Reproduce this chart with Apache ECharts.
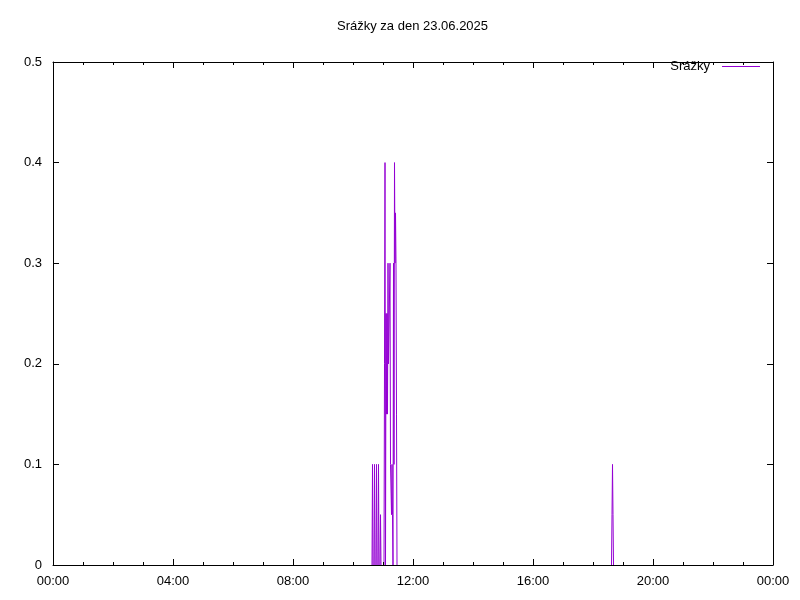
<!DOCTYPE html>
<html>
<head>
<meta charset="utf-8">
<script src="https://cdn.jsdelivr.net/npm/echarts@6/dist/echarts.min.js"></script>
<style>
html,body{margin:0;padding:0;background:#fff;}
#chart{width:800px;height:600px;}
</style>
</head>
<body>
<div id="chart"></div>
<script>
// Data: time of record (HH:MM) and rain amount
const recordTimes = [
  "10:38","10:39","10:40","10:42","10:43","10:44","10:46","10:47","10:48","10:50","10:51","10:52","10:54","10:55","10:56",
  "11:02","11:03","11:04","11:05","11:06","11:07","11:08","11:09","11:10","11:11","11:13","11:14","11:15","11:16","11:17","11:18","11:19","11:20",
  "11:21","11:22","11:23","11:24","11:25","11:26","11:27","11:28",
  "18:37","18:38","18:39","18:40","18:41"
];
const rainValues = [
  0,0.1,0,0,0.1,0,0,0.1,0,0,0.1,0,0,0.05,0,
  0,0.2,0.4,0,0.25,0.15,0.25,0.15,0.3,0.2,0.2,0.3,0.1,0.1,0.05,0.1,0.05,0,
  0.3,0.1,0.4,0.3,0.35,0.3,0.15,0,
  0,0.05,0.1,0.05,0
];
const xTickLabels = ["00:00","04:00","08:00","12:00","16:00","20:00","00:00"];
const yTickLabels = ["0","0.1","0.2","0.3","0.4","0.5"];
const seriesName = "Srážky";
const chartTitle = "Srážky za den 23.06.2025";
const lineColor = '#9400d3';

function toMinutes(s){ const p = s.split(":"); return (+p[0])*60 + (+p[1]); }
// split the trace into pieces where it would only run along zero (hidden behind the border in the original)
const segments = [[]];
recordTimes.forEach((t,i)=>{
  if (i>0 && rainValues[i]===0 && rainValues[i-1]===0) segments.push([]);
  segments[segments.length-1].push([toMinutes(t), rainValues[i]]);
});

const FONT = "'Liberation Sans', Arial, sans-serif";
const chart = echarts.init(document.getElementById('chart'), null, {renderer:'canvas'});

const xCommon = {
  type:'value', min:0, max:1440, interval:240, z:5,
  axisLine:{show:true, onZero:false, lineStyle:{color:'#000', width:1}},
  axisTick:{show:true, inside:true, length:6, lineStyle:{color:'#000'}},
  minorTick:{show:true, splitNumber:4, length:3, lineStyle:{color:'#000'}},
  splitLine:{show:false}, minorSplitLine:{show:false}
};
const yCommon = {
  type:'value', min:0, max:0.5, interval:0.1, z:5,
  axisLine:{show:true, onZero:false, lineStyle:{color:'#000', width:1}},
  axisTick:{show:true, inside:true, length:6, lineStyle:{color:'#000'}},
  splitLine:{show:false}
};

chart.setOption({
  animation:false,
  backgroundColor:'#fff',
  color:[lineColor],
  title:{
    text: chartTitle, left:332, top:15,
    textStyle:{fontFamily:FONT, fontSize:13, fontWeight:'normal', color:'#000'}
  },
  legend:{
    show:true, right:40, top:60, padding:0, align:'right',
    icon:'rect', itemWidth:38, itemHeight:1,
    textStyle:{fontFamily:FONT, fontSize:13, color:'#000', padding:[0,7,0,0]},
    data:[seriesName]
  },
  grid:{left:53, right:27, top:62, bottom:35, containLabel:false, show:false},
  xAxis:[
    Object.assign({}, xCommon, {position:'bottom',
      axisLabel:{show:true, margin:10, fontFamily:FONT, fontSize:13, color:'#000',
        formatter:(v)=> xTickLabels[Math.round(v/240)]}}),
    Object.assign({}, xCommon, {position:'top', axisLabel:{show:false}})
  ],
  yAxis:[
    Object.assign({}, yCommon, {position:'left',
      axisLabel:{show:true, margin:11, fontFamily:FONT, fontSize:13, color:'#000',
        formatter:(v)=> yTickLabels[Math.round(v*10)]}}),
    Object.assign({}, yCommon, {position:'right', axisLabel:{show:false}})
  ],
  series: segments.map(seg => ({
    name: seriesName, type:'line', data: seg,
    xAxisIndex:0, yAxisIndex:0,
    showSymbol:false, symbol:'none', z:2,
    lineStyle:{color:lineColor, width:1},
    itemStyle:{color:lineColor}
  }))
});
</script>
</body>
</html>
